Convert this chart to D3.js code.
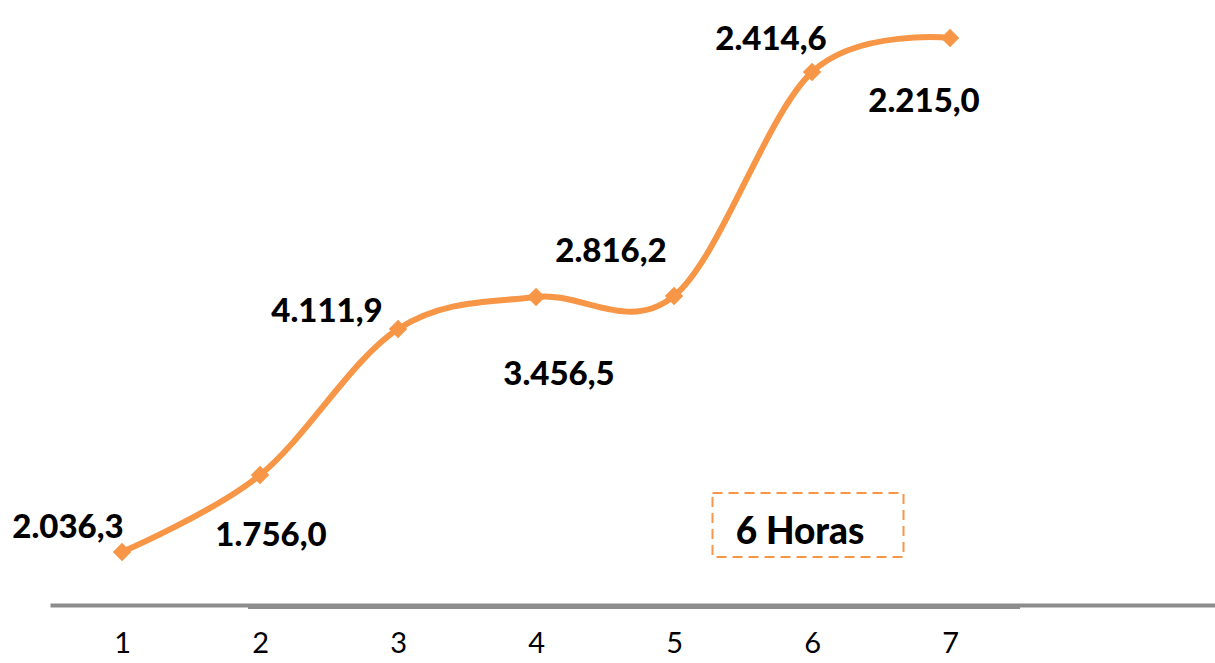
<!DOCTYPE html>
<html>
<head>
<meta charset="utf-8">
<script src="https://cdn.jsdelivr.net/npm/d3@7"></script>
<style>
  body { margin: 0; background: #fff; }
  svg { display: block; }
</style>
</head>
<body>
<script>
// data
const categories = [1, 2, 3, 4, 5, 6, 7];
const values = [53, 130, 276, 308, 309, 533, 567];   // plotted height
const labels = ["2.036,3", "1.756,0", "4.111,9", "3.456,5", "2.816,2", "2.414,6", "2.215,0"];
const boxText = "6 Horas";

// label placement relative to each point (layout only)
const labelOffsets = [[-54, -14], [11, 71], [-71, -7], [23, 88], [-63, -34], [-41, -22], [-26, 74]];

const width = 1215, height = 663;
const orange = "#F79646";
const font = "Lato, 'Open Sans', sans-serif";

const svg = d3.select("body").append("svg")
  .attr("width", width)
  .attr("height", height);

const x = d3.scaleLinear().domain([0.478, 8.92]).range([50, 1215]);
const y = d3.scaleLinear().domain([0, 600]).range([605, 5]);

// axis
const axis = svg.append("g")
  .attr("transform", `translate(0,${y(0)})`)
  .call(d3.axisBottom(x).tickValues(categories).tickSize(0).tickPadding(27).tickFormat(d3.format("d")));
axis.select(".domain").attr("stroke", "#8c8c8c").attr("stroke-width", 4);
axis.selectAll("text")
  .attr("font-family", font)
  .attr("font-size", 29)
  .attr("fill", "#000");
// thicker middle band of the axis
svg.append("line")
  .attr("x1", 248).attr("x2", 1020)
  .attr("y1", y(0) + 2).attr("y2", y(0) + 2)
  .attr("stroke", "#8c8c8c").attr("stroke-width", 4);

const pts = categories.map((c, i) => [x(c), y(values[i])]);

svg.append("path")
  .datum(pts)
  .attr("fill", "none")
  .attr("stroke", orange)
  .attr("stroke-width", 6)
  .attr("d", d3.line().curve(d3.curveCardinal.tension(0)));

svg.append("g")
  .selectAll("path")
  .data(pts)
  .join("path")
  .attr("transform", d => `translate(${d[0]},${d[1]}) rotate(45)`)
  .attr("d", d3.symbol(d3.symbolSquare, 170))
  .attr("fill", orange);

svg.append("g")
  .attr("font-family", font)
  .attr("font-weight", 900)
  .attr("font-size", 33)
  .attr("text-anchor", "middle")
  .selectAll("text")
  .data(pts)
  .join("text")
  .attr("x", (d, i) => d[0] + labelOffsets[i][0])
  .attr("y", (d, i) => d[1] + labelOffsets[i][1])
  .text((d, i) => labels[i]);

// "6 Horas" box
svg.append("rect")
  .attr("x", 712.5).attr("y", 493)
  .attr("width", 191).attr("height", 64)
  .attr("fill", "none")
  .attr("stroke", orange)
  .attr("stroke-width", 2)
  .attr("stroke-dasharray", "10,6");
svg.append("text")
  .attr("x", 800).attr("y", 544)
  .attr("text-anchor", "middle")
  .attr("font-family", font)
  .attr("font-weight", 900)
  .attr("font-size", 37)
  .text(boxText);
</script>
</body>
</html>
